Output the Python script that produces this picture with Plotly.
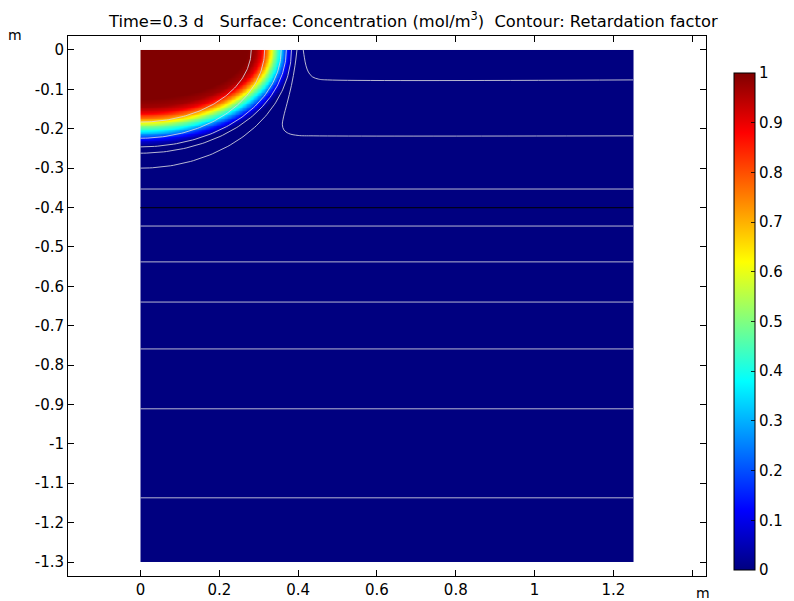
import numpy as np
import plotly.graph_objects as go

# ---------------- data ----------------
# domain extent (m)
x_extent = [0.0, 1.25]
y_extent = [-1.3, 0.0]

# concentration front: semi-axes (m) of the c = 0.5 iso-line
front_ax = 0.342
front_ay = 0.195
# concentration profile versus signed distance from that front (m)
profile_d = [-2.0, -0.07, -0.05, -0.035, -0.02, -0.008, 0.0, 0.01, 0.02, 0.03, 0.04, 0.05, 2.0]
profile_c = [1.0, 1.0, 0.97, 0.9, 0.75, 0.6, 0.5, 0.4, 0.27, 0.15, 0.06, 0.0, 0.0]

# retardation-factor contours
arc_top_x = [0.281, 0.315, 0.357, 0.370, 0.383]      # where arcs meet y = 0
arc_left_y = [-0.183, -0.224, -0.246, -0.262, -0.300]  # where arcs meet x = 0
level_depths = [-0.353, -0.447, -0.538, -0.640, -0.759, -0.911, -1.137]
bent1_x = [0.413, 0.416, 0.420, 0.426, 0.436, 0.452, 0.475, 1.25]
bent1_y = [0.0, -0.020, -0.040, -0.056, -0.068, -0.074, -0.076, -0.076]
bent2_x = [0.397, 0.392, 0.383, 0.372, 0.363, 0.360, 0.364, 0.376, 0.400, 0.440, 1.25]
bent2_y = [0.0, -0.040, -0.090, -0.135, -0.170, -0.190, -0.203, -0.212, -0.217, -0.218, -0.218]
layer_depth = -0.4

colorbar_ticks = [0, 0.1, 0.2, 0.3, 0.4, 0.5, 0.6, 0.7, 0.8, 0.9, 1]
x_ticks = [0, 0.2, 0.4, 0.6, 0.8, 1.0, 1.2]
x_ticklabels = ["0", "0.2", "0.4", "0.6", "0.8", "1", "1.2"]
x_extra_tick = [1.4]
y_ticks = [0, -0.1, -0.2, -0.3, -0.4, -0.5, -0.6, -0.7, -0.8, -0.9, -1.0, -1.1, -1.2, -1.3]
y_ticklabels = ["0", "-0.1", "-0.2", "-0.3", "-0.4", "-0.5", "-0.6", "-0.7", "-0.8",
                "-0.9", "-1", "-1.1", "-1.2", "-1.3"]

title_text = ("Time=0.3 d &nbsp; Surface: Concentration (mol/m<sup>3</sup>) &nbsp;"
              "Contour: Retardation factor")

# ---------------- build the field ----------------
xe = np.concatenate([np.arange(0.0, 0.45, 0.002), np.linspace(0.45, x_extent[1], 41)])
ye = np.concatenate([np.linspace(y_extent[0], -0.36, 48)[:-1], np.arange(-0.36, 0.0001, 0.002)])
ye[-1] = 0.0
xc = 0.5 * (xe[:-1] + xe[1:])
yc = 0.5 * (ye[:-1] + ye[1:])
X, Y = np.meshgrid(xc, yc)
s = np.sqrt((X / front_ax) ** 2 + (Y / front_ay) ** 2)
g = np.sqrt((X / front_ax ** 2) ** 2 + (Y / front_ay ** 2) ** 2) / np.maximum(s, 1e-9)
d = (s - 1.0) / np.maximum(g, 1e-9)
C = np.interp(d, profile_d, profile_c)

colorscale = [
    [0.0, "rgb(0,0,128)"],
    [0.12, "rgb(0,0,255)"],
    [0.38, "rgb(0,255,255)"],
    [0.5, "rgb(128,255,128)"],
    [0.62, "rgb(255,255,0)"],
    [0.88, "rgb(255,0,0)"],
    [1.0, "rgb(128,0,0)"],
]

# plot area in pixels: x 68..706, y 36..576
fig = go.Figure()
fig.add_trace(go.Heatmap(
    x=xe, y=ye, z=C, zmin=0, zmax=1, colorscale=colorscale,
    hoverinfo="skip",
    colorbar=dict(
        x=(734 - 68) / 638, xanchor="left",
        y=(576 - 321.5) / 540, yanchor="middle",
        thickness=21, thicknessmode="pixels",
        len=497, lenmode="pixels",
        outlinecolor="black", outlinewidth=1,
        tickvals=colorbar_ticks,
        ticktext=[("%g" % v) for v in colorbar_ticks],
        ticks="inside", ticklen=4, tickcolor="rgba(0,0,0,0.8)",
        tickfont=dict(family="DejaVu Sans", size=15, color="black"),
        xpad=0, ypad=0,
    ),
))

line_col = "rgba(215,215,225,0.85)"
t = np.linspace(0, np.pi / 2, 80)
for a, b in zip(arc_top_x, arc_left_y):
    fig.add_trace(go.Scatter(x=a * np.cos(t), y=b * np.sin(t), mode="lines",
                             line=dict(color=line_col, width=1), hoverinfo="skip",
                             showlegend=False))
for yv in level_depths:
    fig.add_trace(go.Scatter(x=x_extent, y=[yv, yv], mode="lines",
                             line=dict(color=line_col, width=1), hoverinfo="skip",
                             showlegend=False))
for bx, by in ((bent1_x, bent1_y), (bent2_x, bent2_y)):
    fig.add_trace(go.Scatter(x=bx, y=by, mode="lines", line_shape="spline",
                             line=dict(color=line_col, width=1), hoverinfo="skip",
                             showlegend=False))
fig.add_trace(go.Scatter(x=x_extent, y=[layer_depth, layer_depth], mode="lines",
                         line=dict(color="rgba(0,0,20,0.9)", width=1.2), hoverinfo="skip",
                         showlegend=False))

axis_common = dict(
    showline=True, linecolor="black", linewidth=1, mirror="ticks",
    ticks="inside", ticklen=6, tickcolor="black",
    showgrid=False, zeroline=False,
    tickfont=dict(family="DejaVu Sans", size=15, color="black"),
)
fig.update_xaxes(range=[-0.184, 1.435], tickvals=x_ticks, ticktext=x_ticklabels,
                 minor=dict(tickvals=x_extra_tick, ticks="inside", ticklen=6,
                            tickcolor="black", showgrid=False),
                 **axis_common)
fig.update_yaxes(range=[-1.3355, 0.0355], tickvals=y_ticks, ticktext=y_ticklabels,
                 **axis_common)

fig.update_layout(
    width=794, height=601,
    margin=dict(l=68, r=88, t=36, b=25, autoexpand=False),
    paper_bgcolor="white", plot_bgcolor="white",
    showlegend=False,
    annotations=[
        dict(text=title_text, xref="paper", yref="paper",
             x=(413 - 68) / 638, y=(576 - 20) / 540,
             xanchor="center", yanchor="middle", showarrow=False,
             font=dict(family="DejaVu Sans", size=16.3, color="black")),
        dict(text="m", xref="paper", yref="paper", x=-53 / 638, y=1 + 1 / 540,
             xanchor="center", yanchor="middle", showarrow=False,
             font=dict(family="DejaVu Sans", size=14, color="black")),
        dict(text="m", xref="paper", yref="paper", x=(703 - 68) / 638, y=-17 / 540,
             xanchor="center", yanchor="middle", showarrow=False,
             font=dict(family="DejaVu Sans", size=14, color="black")),
    ],
)

fig.write_html("out.html")
